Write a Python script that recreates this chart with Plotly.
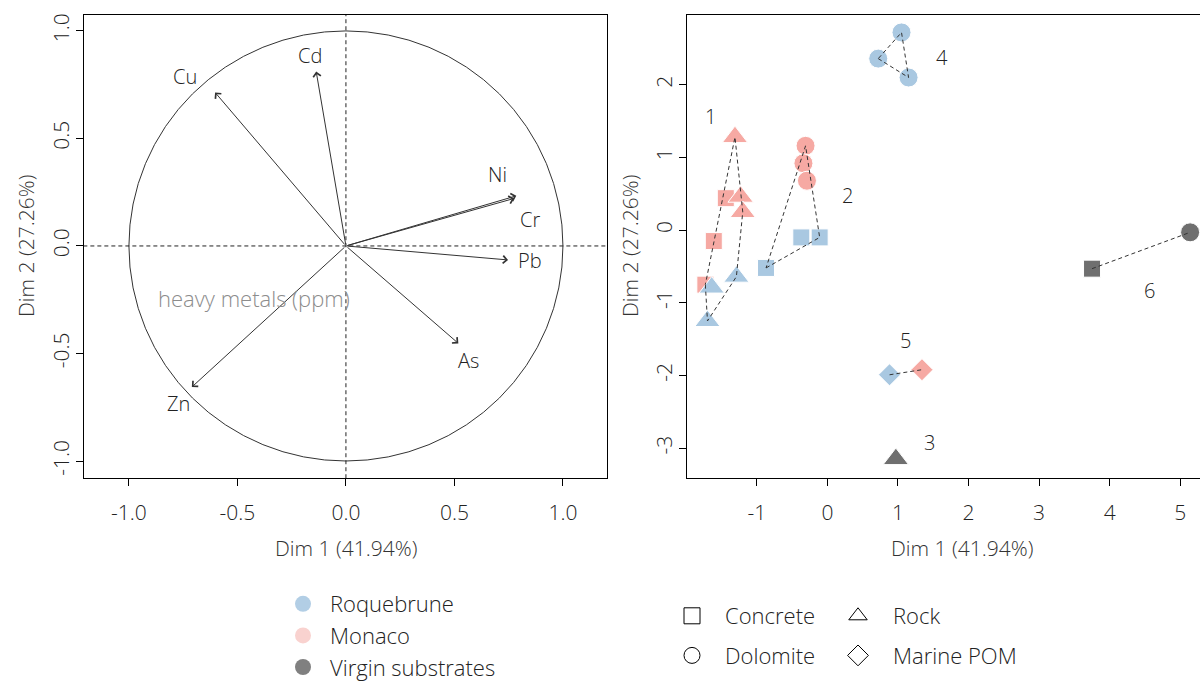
import numpy as np
import pandas as pd
import plotly.graph_objects as go

# ---------------- correlation circle: variable coordinates ----------------
variables = ["Cd", "Cu", "Ni", "Cr", "Pb", "As", "Zn"]
var_dim1 = [-0.137, -0.603, 0.785, 0.775, 0.747, 0.518, -0.710]
var_dim2 = [0.811, 0.714, 0.233, 0.221, -0.065, -0.453, -0.656]

# ---------------- individuals ----------------
site = ["Roquebrune"] * 10 + ["Monaco"] * 10 + ["Virgin substrates"] * 3
substrate = (["Concrete"] * 3 + ["Rock"] * 3 + ["Dolomite"] * 3 + ["Marine POM"]) * 2 + \
            ["Concrete", "Dolomite", "Rock"]
dim1 = [-0.37, -0.11, -0.87, -1.64, -1.70, -1.29, 1.05, 0.72, 1.15, 0.88,
        -1.44, -1.61, -1.73, -1.31, -1.23, -1.20, -0.31, -0.34, -0.29, 1.34,
        3.75, 5.14, 0.97]
dim2 = [-0.10, -0.10, -0.52, -0.79, -1.25, -0.64, 2.72, 2.36, 2.10, -1.99,
        0.44, -0.15, -0.75, 1.28, 0.46, 0.25, 1.16, 0.92, 0.68, -1.92,
        -0.53, -0.03, -3.15]
cluster = [2, 2, 2, 1, 1, 1, 4, 4, 4, 5,
           1, 1, 1, 1, 1, 1, 2, 2, 2, 5,
           6, 6, 3]

cluster_ids = [1, 2, 3, 4, 5, 6]
cluster_lab_x = [-1.65, 0.28, 1.44, 1.62, 1.10, 4.57]
cluster_lab_y = [1.56, 0.48, -2.92, 2.37, -1.52, -0.83]

df = pd.DataFrame({"site": site, "substrate": substrate,
                   "dim1": dim1, "dim2": dim2, "cluster": cluster})

# ---------------- styling ----------------
FONT = "Open Sans"
TXT = "#222222"
site_colors = {"Roquebrune": "#A9C8E1", "Monaco": "#F6A9A3", "Virgin substrates": "#6F6F6F"}
legend_colors = {"Roquebrune": "#B2CEE5", "Monaco": "#F9D2CF", "Virgin substrates": "#808080"}
symbols = {"Concrete": "square", "Rock": "triangle-up", "Dolomite": "circle", "Marine POM": "diamond"}
sizes = {"Concrete": 17, "Rock": 22, "Dolomite": 19, "Marine POM": 17}
# label placement around arrow tips (pixels)
var_label_shift = {"Cd": (-6, 16), "Cu": (-30, 16), "Ni": (-19, 21), "Cr": (16, -21),
                   "Pb": (22, -1), "As": (10, -17), "Zn": (-13, -16)}

fig = go.Figure()

# ---------------- left panel ----------------
fig.add_shape(type="circle", xref="x", yref="y", x0=-1, x1=1, y0=-1, y1=1,
              line=dict(color="#333333", width=1))
fig.add_shape(type="line", xref="x", yref="y", x0=-1.21, x1=1.21, y0=0, y1=0,
              line=dict(color="#222222", width=1, dash="4px,3px"))
fig.add_shape(type="line", xref="x", yref="y", x0=0, x1=0, y0=-1.08, y1=1.08,
              line=dict(color="#222222", width=1, dash="4px,3px"))

for v, vx, vy in zip(variables, var_dim1, var_dim2):
    fig.add_annotation(x=vx, y=vy, ax=0, ay=0, xref="x", yref="y", axref="x", ayref="y",
                       text="", showarrow=True, arrowhead=4, arrowsize=1.5, arrowwidth=1,
                       arrowcolor="#333333")
    dx, dy = var_label_shift[v]
    fig.add_annotation(x=vx, y=vy, xref="x", yref="y", text=v, showarrow=False,
                       xshift=dx, yshift=dy, font=dict(family=FONT, size=20, color=TXT, weight=300))

fig.add_annotation(x=-0.424, y=-0.24, xref="x", yref="y", text="heavy metals (ppm)",
                   showarrow=False, font=dict(family=FONT, size=22, color="#8C8C8C", weight=300))

# ---------------- right panel: individuals ----------------
for s in ["Monaco", "Roquebrune", "Virgin substrates"]:
    for sub in ["Concrete", "Rock", "Dolomite", "Marine POM"]:
        d = df[(df.site == s) & (df.substrate == sub)]
        if d.empty:
            continue
        fig.add_trace(go.Scatter(
            x=d.dim1, y=d.dim2, mode="markers", xaxis="x2", yaxis="y2", showlegend=False,
            marker=dict(symbol=symbols[sub], size=sizes[sub], color=site_colors[s],
                        line=dict(color="white", width=1)),
            hoverinfo="skip"))


def convex_hull(points):
    pts = sorted(set(points))
    if len(pts) <= 2:
        return pts

    def cross(o, a, b):
        return (a[0] - o[0]) * (b[1] - o[1]) - (a[1] - o[1]) * (b[0] - o[0])

    lower, upper = [], []
    for p in pts:
        while len(lower) >= 2 and cross(lower[-2], lower[-1], p) <= 0:
            lower.pop()
        lower.append(p)
    for p in reversed(pts):
        while len(upper) >= 2 and cross(upper[-2], upper[-1], p) <= 0:
            upper.pop()
        upper.append(p)
    h = lower[:-1] + upper[:-1]
    return h + [h[0]]


for cid in cluster_ids:
    d = df[df.cluster == cid]
    if len(d) < 2:
        continue
    h = convex_hull(list(zip(d.dim1, d.dim2)))
    fig.add_trace(go.Scatter(
        x=[p[0] for p in h], y=[p[1] for p in h], mode="lines", xaxis="x2", yaxis="y2",
        showlegend=False, hoverinfo="skip",
        line=dict(color="#333333", width=1, dash="4px,3px")))

for cid, lx, ly in zip(cluster_ids, cluster_lab_x, cluster_lab_y):
    fig.add_annotation(x=lx, y=ly, xref="x2", yref="y2", text=str(cid), showarrow=False,
                       font=dict(family=FONT, size=20, color=TXT, weight=300))

# ---------------- legends ----------------
for i, s in enumerate(["Roquebrune", "Monaco", "Virgin substrates"]):
    fig.add_trace(go.Scatter(x=[None], y=[None], mode="markers", name=s, legend="legend",
                             legendgroup=s, xaxis="x2", yaxis="y2",
                             marker=dict(symbol="circle", size=16, color=legend_colors[s])))
for leg, subs in [("legend2", ["Concrete", "Dolomite"]), ("legend3", ["Rock", "Marine POM"])]:
    for sub in subs:
        fig.add_trace(go.Scatter(x=[None], y=[None], mode="markers", name=sub, legend=leg,
                                 legendgroup=sub, xaxis="x2", yaxis="y2",
                                 marker=dict(symbol=symbols[sub] + "-open", size=16,
                                             color="black", line=dict(width=1))))

tickfont = dict(family=FONT, size=21, color=TXT, weight=300)
legfont = dict(family=FONT, size=22, color=TXT, weight=300)
common_ax = dict(showgrid=False, zeroline=False, showline=True, linecolor="black", linewidth=1,
                 ticks="outside", ticklen=7, tickcolor="black", tickfont=tickfont)

left_ticks = [-1, -0.5, 0, 0.5, 1]
left_ticktext = ["-1.0", "-0.5", "0.0", "0.5", "1.0"]
right_xticks = [-1, 0, 1, 2, 3, 4, 5]
right_yticks = [-3, -2, -1, 0, 1, 2]

ydom = [203 / 681, 666 / 681]
fig.update_layout(
    width=1200, height=681, margin=dict(l=0, r=0, t=0, b=0, autoexpand=False),
    paper_bgcolor="white", plot_bgcolor="white",
    xaxis=dict(domain=[84 / 1200, 607 / 1200], range=[-1.207, 1.203], mirror=True,
               tickvals=left_ticks, ticktext=left_ticktext, ticklabelstandoff=9, **common_ax),
    yaxis=dict(domain=ydom, range=[-1.079, 1.074], mirror=True, tickangle=-90,
               tickvals=left_ticks, ticktext=left_ticktext, ticklabelstandoff=-1, **common_ax),
    xaxis2=dict(domain=[687 / 1200, 1.0], range=[-1.99, 5.28], mirror=True, anchor="y2",
                tickvals=right_xticks, ticktext=[str(t) for t in right_xticks],
                ticklabelstandoff=9, **common_ax),
    yaxis2=dict(domain=ydom, range=[-3.41, 2.96], anchor="x2", tickangle=-90,
                tickvals=right_yticks, ticktext=[str(t) for t in right_yticks],
                ticklabelstandoff=-1, **common_ax),
    showlegend=True,
    legend=dict(x=276 / 1200, y=1 - 583 / 681, xanchor="left", yanchor="top",
                font=legfont, tracegroupgap=0, itemwidth=44, bgcolor="rgba(0,0,0,0)"),
    legend2=dict(x=659 / 1200, y=1 - 595 / 681, xanchor="left", yanchor="top",
                 font=legfont, tracegroupgap=8, itemwidth=56, bgcolor="rgba(0,0,0,0)"),
    legend3=dict(x=823 / 1200, y=1 - 595 / 681, xanchor="left", yanchor="top",
                 font=legfont, tracegroupgap=8, itemwidth=60, bgcolor="rgba(0,0,0,0)"),
)

# axis titles
title_font = dict(family=FONT, size=21, color="#333333", weight=300)
for xc, text in [(346, "Dim 1 (41.94%)"), (962, "Dim 1 (41.94%)")]:
    fig.add_annotation(x=xc / 1200, y=1 - 548 / 681, xref="paper", yref="paper", text=text,
                       xanchor="center", yanchor="middle", showarrow=False, font=title_font)
for xc in [26, 630]:
    fig.add_annotation(x=xc / 1200, y=1 - 246 / 681, xref="paper", yref="paper",
                       text="Dim 2 (27.26%)", textangle=-90, xanchor="center", yanchor="middle",
                       showarrow=False, font=title_font)

fig.write_html("out.html")
